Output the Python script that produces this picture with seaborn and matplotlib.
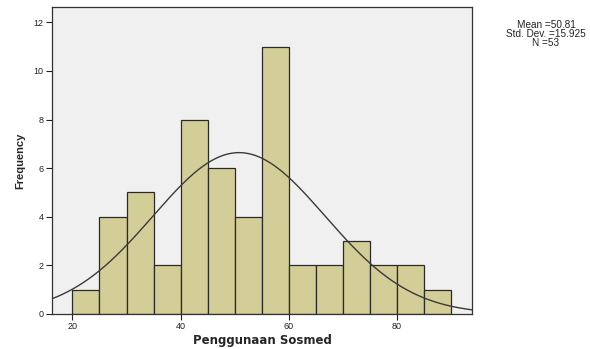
import numpy as np
import pandas as pd
import seaborn as sns
import matplotlib
matplotlib.use("Agg")
import matplotlib.pyplot as plt

# Data
bin_edges = [20, 25, 30, 35, 40, 45, 50, 55, 60, 65, 70, 75, 80, 85, 90]
counts = [1, 4, 5, 2, 8, 6, 4, 11, 2, 2, 3, 2, 2, 1]
mean_val = 50.81
std_val = 15.925
n_val = 53
x_ticks = [20, 40, 60, 80]
y_ticks = [0, 2, 4, 6, 8, 10, 12]

mids = [(a + b) / 2 for a, b in zip(bin_edges[:-1], bin_edges[1:])]
df = pd.DataFrame({"Penggunaan Sosmed": mids, "count": counts})

sns.set_style("white")
plt.rcParams['font.family'] = ['Liberation Sans', 'DejaVu Sans']

fig = plt.figure(figsize=(5.9, 3.49), dpi=100)
ax = fig.add_axes([0.088, 0.1003, 0.712, 0.8797])
ax.set_facecolor("#f0f0f0")

sns.histplot(data=df, x="Penggunaan Sosmed", weights="count", bins=bin_edges,
             color="#d3ce97", edgecolor="#2a2a2a", linewidth=0.9, alpha=1.0, ax=ax)

xs = np.linspace(16.2, 93.9, 400)
ys = n_val * 5 * np.exp(-0.5 * ((xs - mean_val) / std_val) ** 2) / (std_val * np.sqrt(2 * np.pi))
sns.lineplot(x=xs, y=ys, color="#3a3a3a", linewidth=1.0, ax=ax)

ax.set_xlim(16.2, 93.9)
ax.set_ylim(0, 12.63)
ax.set_xticks(x_ticks)
ax.set_yticks(y_ticks)
ax.tick_params(axis="both", direction="out", length=4, width=0.8, labelsize=6.5,
               colors="#222222", pad=2, bottom=True, left=True)
for s in ax.spines.values():
    s.set_color("#333333")
    s.set_linewidth(0.9)

ax.set_xlabel("Penggunaan Sosmed", fontsize=8.5, fontweight="bold", labelpad=2,
              fontfamily=["DejaVu Sans"])
ax.set_ylabel("Frequency", fontsize=8, fontweight="bold", labelpad=6,
              fontfamily=["Liberation Sans Narrow", "Liberation Sans"])

fig.text(546 / 590, 1 - 20 / 349, f"Mean ={mean_val}\nStd. Dev. ={std_val}\nN ={n_val}",
         ha="center", va="top", fontsize=7.2, linespacing=0.85, color="#222222")

fig.savefig("out.png", dpi=100)
